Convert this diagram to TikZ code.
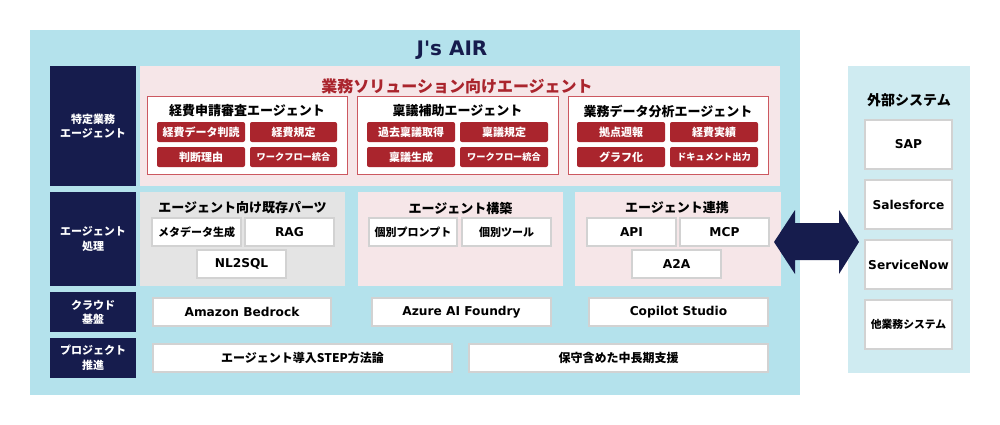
\documentclass[tikz,border=0pt]{standalone}
\usepackage{fontspec}
\newfontfamily\jp{Noto Sans CJK JP}
\newfontfamily\lat{DejaVu Sans}
\definecolor{bgblue}{RGB}{180,226,236}
\definecolor{extblue}{RGB}{207,235,241}
\definecolor{navy}{RGB}{22,28,77}
\definecolor{pinkbg}{RGB}{246,230,232}
\definecolor{chipred}{RGB}{170,37,45}
\definecolor{boxred}{RGB}{204,88,96}
\definecolor{graybg}{RGB}{228,228,228}
\definecolor{wborder}{RGB}{210,210,210}
\newcommand\R[7]{\node[#1,minimum width={(#4)-(#2)},minimum height={(#5)-(#3)}] (#6) at ({((#2)+(#4))/2},{((#3)+(#5))/2}) {#7};}
\newcommand\sm{\fontsize{9.2}{12}\selectfont}
\tikzset{
  base/.style={inner sep=0pt,outer sep=0pt,align=center,font=\jp\bfseries},
  panel/.style={base,fill=bgblue},
  navybox/.style={base,fill=navy,text=white,font=\jp\bfseries\fontsize{11}{14.5}\selectfont},
  pinkpanel/.style={base,fill=pinkbg},
  graypanel/.style={base,fill=graybg},
  extpanel/.style={base,fill=extblue},
  redbox/.style={base,fill=white,draw=boxred,line width=1pt},
  chip/.style={base,fill=chipred,text=white,rounded corners=2pt,font=\jp\bfseries\fontsize{11}{13}\selectfont},
  wbox/.style={base,fill=white,draw=wborder,line width=1.2pt,font=\jp\bfseries\fontsize{11}{13}\selectfont},
  lbox/.style={wbox,font=\lat\bfseries\fontsize{12.2}{14}\selectfont},
  ttl/.style={inner sep=0pt,font=\jp\bfseries\fontsize{13}{15}\selectfont},
}
\begin{document}
\begin{tikzpicture}[x=1pt,y=-1pt]
\useasboundingbox (0,0) rectangle (1000,425);
\fill[white] (0,0) rectangle (1000,425);
% main panel
\R{panel}{30}{30}{800}{395}{main}{}
\node[inner sep=0pt,text=navy,font=\lat\bfseries\fontsize{20}{22}\selectfont] (title) at (452,50) {J's AIR};
% left labels
\R{navybox}{50}{66}{136}{186}{l1}{特定業務\\エージェント}
\R{navybox}{50}{192}{136}{286}{l2}{エージェント\\処理}
\R{navybox}{50}{292}{136}{332}{l3}{クラウド\\基盤}
\R{navybox}{50}{338}{136}{378}{l4}{プロジェクト\\推進}
% row 1
\R{pinkpanel}{140}{66}{780}{186}{p1}{}
\node[inner sep=0pt,text=chipred,font=\jp\bfseries\fontsize{16}{18}\selectfont] (t1) at (457,86) {業務ソリューション向けエージェント};
\R{redbox}{147}{97}{347}{174}{s1}{}
\R{redbox}{357}{97}{558}{174}{s2}{}
\R{redbox}{568}{97}{768}{174}{s3}{}
\node[ttl] (s1t) at (247,111) {経費申請審査エージェント};
\node[ttl] (s2t) at (457.5,111) {稟議補助エージェント};
\node[ttl] (s3t) at (668,111) {業務データ分析エージェント};
\R{chip}{157}{122}{245}{142}{c11}{経費データ判読}
\R{chip}{250}{122}{337}{142}{c12}{経費規定}
\R{chip}{157}{147}{245}{167}{c13}{判断理由}
\R{chip}{250}{147}{337}{167}{c14}{\sm ワークフロー統合}
\R{chip}{367}{122}{455}{142}{c21}{過去稟議取得}
\R{chip}{460}{122}{548}{142}{c22}{稟議規定}
\R{chip}{367}{147}{455}{167}{c23}{稟議生成}
\R{chip}{460}{147}{548}{167}{c24}{\sm ワークフロー統合}
\R{chip}{577}{122}{665}{142}{c31}{拠点週報}
\R{chip}{670}{122}{758}{142}{c32}{経費実績}
\R{chip}{577}{147}{665}{167}{c33}{グラフ化}
\R{chip}{670}{147}{758}{167}{c34}{\sm ドキュメント出力}
% row 2
\R{graypanel}{140}{192}{345}{286}{g2}{}
\R{pinkpanel}{358}{192}{563}{286}{p2}{}
\R{pinkpanel}{575}{192}{781}{286}{p3}{}
\node[ttl] (g2t) at (242.5,208) {エージェント向け既存パーツ};
\node[ttl] (p2t) at (460.5,208) {エージェント構築};
\node[ttl] (p3t) at (677,208) {エージェント連携};
\R{wbox}{152}{218}{241}{246}{b1}{メタデータ生成}
\R{lbox}{245}{218}{334}{246}{b2}{RAG}
\R{lbox}{197}{250}{286}{278}{b3}{NL2SQL}
\R{wbox}{369}{218}{457}{246}{b4}{個別プロンプト}
\R{wbox}{462}{218}{551}{246}{b5}{個別ツール}
\R{lbox}{587}{218}{676}{246}{b6}{API}
\R{lbox}{680}{218}{769}{246}{b7}{MCP}
\R{lbox}{632}{250}{721}{278}{b8}{A2A}
% row 3
\R{lbox}{153}{298}{331}{326}{cl1}{Amazon Bedrock}
\R{lbox}{372}{298}{551}{326}{cl2}{Azure AI Foundry}
\R{lbox}{589}{298}{768}{326}{cl3}{Copilot Studio}
% row 4
\R{wbox}{153}{344}{452}{372}{pj1}{\fontsize{12}{14}\selectfont エージェント導入STEP方法論}
\R{wbox}{469}{344}{768}{372}{pj2}{\fontsize{12}{14}\selectfont 保守含めた中長期支援}
% external
\R{extpanel}{848}{66}{970}{373}{ext}{}
\node[inner sep=0pt,font=\jp\bfseries\fontsize{14}{17}\selectfont] (extt) at (909,100) {外部システム};
\R{lbox}{865}{120}{952}{169}{e1}{SAP}
\R{lbox}{865}{180}{952}{229}{e2}{Salesforce}
\R{lbox}{865}{240}{952}{289}{e3}{ServiceNow}
\R{wbox}{865}{300}{952}{349}{e4}{\fontsize{10.8}{13}\selectfont 他業務システム}
% double arrow
\coordinate (al) at (774,242);
\coordinate (ar) at (859,242);
\fill[navy] (al) -- (795,210) -- (795,223) -- (839,223) -- (839,210) -- (ar) -- (839,274) -- (839,260) -- (795,260) -- (795,274) -- cycle;
\end{tikzpicture}
\end{document}
